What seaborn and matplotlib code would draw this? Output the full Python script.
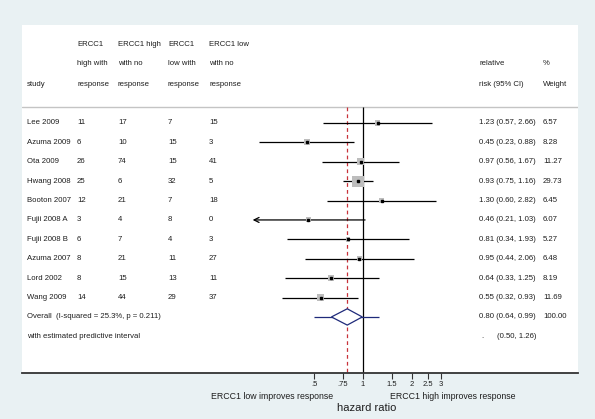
import numpy as np
import matplotlib
matplotlib.use("Agg")
import matplotlib.pyplot as plt
import matplotlib.transforms as mtransforms
from matplotlib.patches import Polygon
import seaborn as sns

# data
studies = ["Lee 2009", "Azuma 2009", "Ota 2009", "Hwang 2008", "Booton 2007",
           "Fujii 2008 A", "Fujii 2008 B", "Azuma 2007", "Lord 2002", "Wang 2009"]
high_resp = [11, 6, 26, 25, 12, 3, 6, 8, 8, 14]
high_noresp = [17, 10, 74, 6, 21, 4, 7, 21, 15, 44]
low_resp = [7, 15, 15, 32, 7, 8, 4, 11, 13, 29]
low_noresp = [15, 3, 41, 5, 18, 0, 3, 27, 11, 37]
rr = [1.23, 0.45, 0.97, 0.93, 1.30, 0.46, 0.81, 0.95, 0.64, 0.55]
lo = [0.57, 0.23, 0.56, 0.75, 0.60, 0.21, 0.34, 0.44, 0.33, 0.32]
hi = [2.66, 0.88, 1.67, 1.16, 2.82, 1.03, 1.93, 2.06, 1.25, 0.93]
weight = [6.57, 8.28, 11.27, 29.73, 6.45, 6.07, 5.27, 6.48, 8.19, 11.69]
pooled = [0.80, 0.64, 0.99]
pred_int = [0.50, 1.26]
i2_text = "Overall  (I-squared = 25.3%, p = 0.211)"
tick_vals = [0.5, 0.75, 1, 1.5, 2, 2.5, 3]
tick_labels = [".5", ".75", "1", "1.5", "2", "2.5", "3"]

sns.set_theme(style="white")
plt.rcParams["font.family"] = ["Liberation Sans", "DejaVu Sans"]

bg = "#e9f1f3"
txt = "#1e1e1e"
W, H = 595, 419
fig = plt.figure(figsize=(W / 100, H / 100), dpi=100, facecolor=bg)
ax = fig.add_axes([22 / W, (H - 373) / H, (578 - 22) / W, (373 - 25) / H])
ax.set_facecolor("white")

# log x scale, limits so that 1 sits at x=363px
ppu = 70.7
ax.set_xscale("log")
ax.set_xlim(np.exp((22 - 363) / ppu), np.exp((578 - 363) / ppu))
ax.set_ylim(12.89, -5.05)

for s in ["top", "left", "right"]:
    ax.spines[s].set_visible(False)
ax.spines["bottom"].set_color("#333333")
ax.spines["bottom"].set_linewidth(1.3)

ax.set_xticks(tick_vals)
ax.set_xticklabels(tick_labels, fontsize=5.5, color=txt)
ax.xaxis.set_minor_locator(matplotlib.ticker.NullLocator())
ax.tick_params(axis="x", direction="out", length=4, width=0.8, color="#333333", pad=1.5, bottom=True)
ax.set_yticks([])

rows = np.arange(len(studies))
n = len(studies)
overall_row = n
pred_row = n + 1

# header line and reference lines
ax.axhline(-0.82, color="#c4c4c4", lw=1.0)
ax.vlines(1, -0.82, 12.89, color="black", lw=0.9)
ax.vlines(pooled[0], -0.82, 12.89, color="#c8323a", lw=0.9, linestyles=(0, (3, 2.5)))

# confidence intervals
for i in range(n):
    if i == 5:
        ax.annotate("", xy=(lo[i], rows[i]), xytext=(hi[i], rows[i]),
                    arrowprops=dict(arrowstyle="->", color="black", lw=0.9,
                                    mutation_scale=9, shrinkA=0, shrinkB=0))
    else:
        ax.hlines(rows[i], lo[i], hi[i], color="black", lw=0.9)

# weight boxes
sns.scatterplot(x=rr, y=rows, size=weight, sizes=(0, 66), size_norm=(0, 29.73),
                marker="s", color="#bdbdbd", edgecolor="none", legend=False, ax=ax, zorder=3)
ax.plot(rr, rows, ls="none", marker="s", ms=1.5, color="black", zorder=4)

# pooled diamond and predictive interval
navy = "#1f2a7a"
ax.hlines(overall_row, pred_int[0], pred_int[1], color=navy, lw=0.9)
dia = Polygon([(pooled[1], overall_row), (pooled[0], overall_row - 0.42),
               (pooled[2], overall_row), (pooled[0], overall_row + 0.42)],
              closed=True, facecolor="white", edgecolor=navy, lw=0.9, zorder=3)
ax.add_patch(dia)

# text columns
tr = mtransforms.blended_transform_factory(ax.transAxes, ax.transData)
def fx(px):
    return (px - 22) / 556

fs = 5.6
col_x = [fx(77), fx(118), fx(168), fx(209)]
headers = [["ERCC1", "high with", "response"],
           ["ERCC1 high", "with no", "response"],
           ["ERCC1", "low with", "response"],
           ["ERCC1 low", "with no", "response"]]
head_rows = [-4.07, -3.04, -2.0]
for cx, hd in zip(col_x, headers):
    for hy, h in zip(head_rows, hd):
        ax.text(cx, hy, h, transform=tr, fontsize=fs, color=txt, va="center")
ax.text(fx(27), head_rows[2], "study", transform=tr, fontsize=fs, color=txt, va="center")
ax.text(fx(479), head_rows[1], "relative", transform=tr, fontsize=fs, color=txt, va="center")
ax.text(fx(479), head_rows[2], "risk (95% CI)", transform=tr, fontsize=fs, color=txt, va="center")
ax.text(fx(543), head_rows[1], "%", transform=tr, fontsize=fs, color=txt, va="center")
ax.text(fx(543), head_rows[2], "Weight", transform=tr, fontsize=fs, color=txt, va="center")

for i in range(n):
    ax.text(fx(27), rows[i], studies[i], transform=tr, fontsize=fs, color=txt, va="center")
    for cx, col in zip(col_x, [high_resp, high_noresp, low_resp, low_noresp]):
        ax.text(cx, rows[i], str(col[i]), transform=tr, fontsize=fs, color=txt, va="center")
    ax.text(fx(479), rows[i], f"{rr[i]:.2f} ({lo[i]:.2f}, {hi[i]:.2f})", transform=tr,
            fontsize=fs, color=txt, va="center")
    ax.text(fx(543), rows[i], f"{weight[i]:.2f}", transform=tr, fontsize=fs, color=txt, va="center")

ax.text(fx(27), overall_row, i2_text, transform=tr, fontsize=fs, color=txt, va="center")
ax.text(fx(479), overall_row, f"{pooled[0]:.2f} ({pooled[1]:.2f}, {pooled[2]:.2f})", transform=tr,
        fontsize=fs, color=txt, va="center")
ax.text(fx(543), overall_row, "100.00", transform=tr, fontsize=fs, color=txt, va="center")
ax.text(fx(27), pred_row, "with estimated predictive interval", transform=tr, fontsize=fs, color=txt, va="center")
ax.text(fx(481), pred_row, ".", transform=tr, fontsize=fs, color=txt, va="center")
ax.text(fx(497), pred_row, f"({pred_int[0]:.2f}, {pred_int[1]:.2f})", transform=tr,
        fontsize=fs, color=txt, va="center")

# favours labels and axis title
fig.text(333 / W, 1 - 396 / H, "ERCC1 low improves response", ha="right", va="center",
         fontsize=6.3, color=txt)
fig.text(390 / W, 1 - 396 / H, "ERCC1 high improves response", ha="left", va="center",
         fontsize=6.3, color=txt)
fig.text(367 / W, 1 - 408 / H, "hazard ratio", ha="center", va="center", fontsize=8, color=txt)

fig.savefig("out.png", dpi=100, facecolor=bg)
